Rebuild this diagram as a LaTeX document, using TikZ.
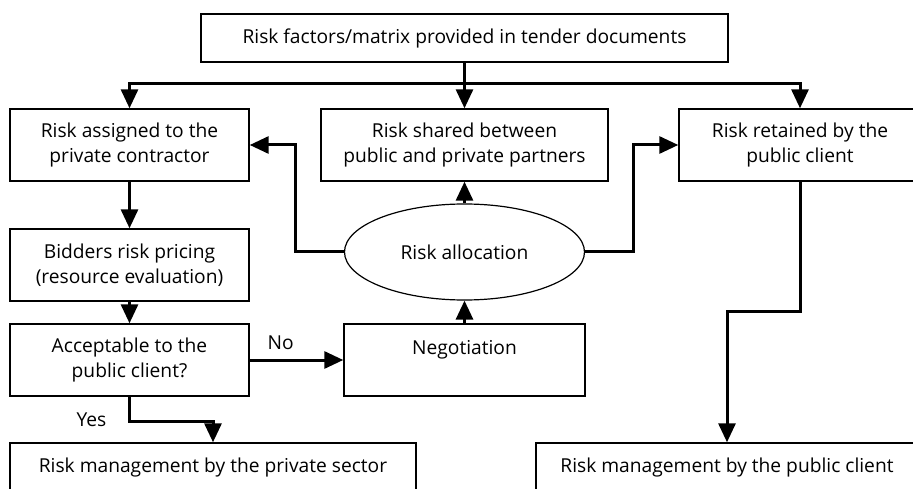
\documentclass[tikz,border=0pt]{standalone}
\usepackage{fontspec}
\setmainfont{Open Sans}
\usetikzlibrary{arrows.meta,shapes.geometric}
\begin{document}
\begin{tikzpicture}[x=1pt,y=1pt,
  font=\fontsize{19.2}{25}\selectfont,
  box/.style={draw,line width=1.4pt,rectangle,align=center,inner sep=0pt},
  arr/.style={line width=3pt,-{Triangle[length=19pt,width=17pt]}},
  lbl/.style={inner sep=0pt}]
\useasboundingbox (0,0) rectangle (913,-489);
\node[box,minimum width=527,minimum height=48] (top) at (464.5,-38) {Risk factors/matrix provided in tender documents};
\node[box,minimum width=239,minimum height=72] (A) at (129.5,-145) {Risk assigned to the\\private contractor};
\node[box,minimum width=287,minimum height=72] (B) at (464.5,-145) {Risk shared between\\public and private partners};
\node[box,minimum width=242,minimum height=72] (C) at (800,-145) {Risk retained by the\\public client};
\node[box,minimum width=239,minimum height=72] (D) at (129.5,-265) {Bidders risk pricing\\(resource evaluation)};
\node[box,minimum width=239,minimum height=72] (E) at (129.5,-360) {Acceptable to the\\public client?};
\node[box,minimum width=241,minimum height=72] (N) at (464.5,-360) {Negotiation\\\mbox{}};
\node[draw,line width=1.2pt,ellipse,minimum width=240,minimum height=96,inner sep=0pt] (ell) at (464.5,-252) {Risk allocation};
\node[box,minimum width=406,minimum height=50] (BL) at (213,-468) {Risk management by the private sector};
\node[box,minimum width=382,minimum height=50] (BR) at (727,-468) {Risk management by the public client};
\coordinate (hub) at (464.5,-84);
\draw[line width=3pt] (top.south) -- (hub);
\draw[arr] (hub) -| (A.north);
\draw[arr] (hub) -| (C.north);
\draw[arr] (hub) -- (B.north);
\draw[arr] (A.south) -- (D.north);
\draw[arr] (D.south) -- (E.north);
\draw[arr] (E.south) -- ++(0,-25) coordinate (yesturn) -| (BL.north);
\draw[arr] (E.east) -- (N.west) node[lbl,pos=0.33,above=9pt] (no) {No};
\draw[arr] (N.north) -- (ell.south);
\draw[arr] (ell.north) -- (B.south);
\draw[arr] (ell.west) -- ++(-48,0) |- (A.east);
\draw[arr] (ell.east) -- ++(48,0) |- (C.west);
\draw[arr] (C.south) -- ++(0,-130) -| (BR.north);
\node[lbl,anchor=east] (yes) at ([xshift=-23pt,yshift=2pt]yesturn) {Yes};
\end{tikzpicture}
\end{document}
